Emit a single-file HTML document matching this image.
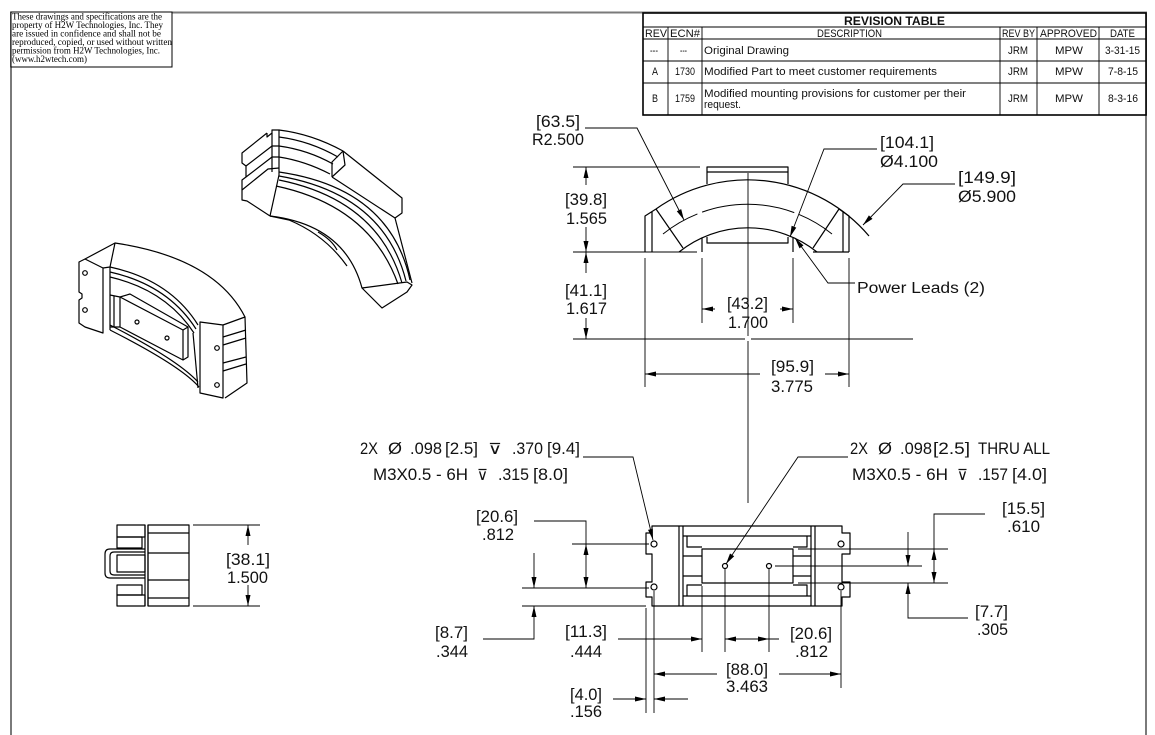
<!DOCTYPE html>
<html><head><meta charset="utf-8"><style>
html,body{margin:0;padding:0;background:#fff;}
svg{display:block;}
.o{fill:none;stroke:#000;stroke-width:1.2;stroke-linejoin:round}
.d{fill:none;stroke:#000;stroke-width:0.9}
.a{fill:#000;stroke:none}
.t{font-family:"Liberation Sans","DejaVu Sans",sans-serif;font-size:17px;fill:#111}
.p{font-family:"Liberation Sans",sans-serif;font-size:15.5px;fill:#111}
.r{font-family:"Liberation Sans",sans-serif;font-size:11px;fill:#111}
.n{font-family:"Liberation Serif",serif;font-size:9.5px;fill:#000}
.s{font-family:"DejaVu Sans","Liberation Sans",sans-serif;font-size:15px;fill:#111}
</style></head><body>
<svg width="1155" height="735" viewBox="0 0 1155 735" xmlns="http://www.w3.org/2000/svg">
<rect x="0" y="0" width="1155" height="735" fill="#fff"/>
<!-- frame -->
<path d="M11,735 L11,12.5 L1146,12.5 L1146,735" fill="none" stroke="#7a7a7a" stroke-width="2"/>
<!-- note box -->
<rect x="11" y="12" width="161" height="55" fill="#fff" stroke="#000" stroke-width="1"/>
<g class="n">
<text x="12" y="19.5" textLength="150" lengthAdjust="spacingAndGlyphs">These drawings and specifications are the</text>
<text x="12" y="28" textLength="151" lengthAdjust="spacingAndGlyphs">property of H2W Technologies, Inc. They</text>
<text x="12" y="36.5" textLength="149" lengthAdjust="spacingAndGlyphs">are issued in  confidence and shall not be</text>
<text x="12" y="45" textLength="160" lengthAdjust="spacingAndGlyphs">reproduced, copied, or used  without written</text>
<text x="12" y="53.5" textLength="148" lengthAdjust="spacingAndGlyphs">permission from H2W Technologies, Inc.</text>
<text x="12" y="62" textLength="75" lengthAdjust="spacingAndGlyphs">(www.h2wtech.com)</text>
</g>
<!-- revision table -->
<rect x="643" y="13" width="503" height="102" fill="#fff" stroke="#000" stroke-width="1.6"/>
<g class="d" stroke-width="1">
<path d="M643,27 H1146 M643,39 H1146 M643,61 H1146 M643,83 H1146"/>
<path d="M668,27 V115 M702,27 V115 M1000,27 V115 M1037,27 V115 M1099,27 V115"/>
</g>
<g class="r">
<text x="844" y="25" textLength="101" lengthAdjust="spacingAndGlyphs" font-weight="bold" font-size="12">REVISION TABLE</text>
<text x="645" y="37" textLength="22" lengthAdjust="spacingAndGlyphs">REV</text>
<text x="670" y="37" textLength="30" lengthAdjust="spacingAndGlyphs">ECN#</text>
<text x="817" y="37" textLength="65" lengthAdjust="spacingAndGlyphs">DESCRIPTION</text>
<text x="1002" y="37" textLength="33" lengthAdjust="spacingAndGlyphs">REV BY</text>
<text x="1040" y="37" textLength="57" lengthAdjust="spacingAndGlyphs">APPROVED</text>
<text x="1110" y="37" textLength="25" lengthAdjust="spacingAndGlyphs">DATE</text>
<text x="650" y="54" textLength="8" lengthAdjust="spacingAndGlyphs">---</text>
<text x="680" y="54" textLength="7" lengthAdjust="spacingAndGlyphs">---</text>
<text x="704" y="54" textLength="85" lengthAdjust="spacingAndGlyphs">Original Drawing</text>
<text x="1008" y="54" textLength="20" lengthAdjust="spacingAndGlyphs">JRM</text>
<text x="1055" y="54" textLength="28" lengthAdjust="spacingAndGlyphs">MPW</text>
<text x="1105" y="54" textLength="35" lengthAdjust="spacingAndGlyphs">3-31-15</text>
<text x="652" y="75" textLength="6" lengthAdjust="spacingAndGlyphs">A</text>
<text x="675" y="75" textLength="20" lengthAdjust="spacingAndGlyphs">1730</text>
<text x="704" y="75" textLength="233" lengthAdjust="spacingAndGlyphs">Modified Part to meet customer requirements</text>
<text x="1008" y="75" textLength="20" lengthAdjust="spacingAndGlyphs">JRM</text>
<text x="1055" y="75" textLength="28" lengthAdjust="spacingAndGlyphs">MPW</text>
<text x="1108" y="75" textLength="30" lengthAdjust="spacingAndGlyphs">7-8-15</text>
<text x="652" y="102" textLength="6" lengthAdjust="spacingAndGlyphs">B</text>
<text x="675" y="102" textLength="20" lengthAdjust="spacingAndGlyphs">1759</text>
<text x="704" y="97" textLength="262" lengthAdjust="spacingAndGlyphs">Modified mounting provisions for customer per their</text>
<text x="704" y="108" textLength="37" lengthAdjust="spacingAndGlyphs">request.</text>
<text x="1008" y="102" textLength="20" lengthAdjust="spacingAndGlyphs">JRM</text>
<text x="1055" y="102" textLength="28" lengthAdjust="spacingAndGlyphs">MPW</text>
<text x="1108" y="102" textLength="30" lengthAdjust="spacingAndGlyphs">8-3-16</text>
</g>

<!-- ============ UPPER ISO ============ -->
<g class="o" stroke-width="1.1">
<path d="M267,133 L242,153 L242,163 L246,166 L246,177 L242,180 L242,200 L247,201 L270,216"/>
<path d="M267,133 L267,137 L272,133 L272,130 L279,130 L279,175 L270,216"/>
<path d="M246,166 L272,146 L279,146"/>
<path d="M246,177 L272,157 L279,157"/>
<path d="M242,190 L268,169 L279,168"/>
<path d="M272,133 L272,172"/>
<path d="M279,130 Q312,134 343,151"/>
<path d="M279,137 Q310,141 338,157"/>
<path d="M279,146 Q308,150 333,164"/>
<path d="M279,157 Q305,161 330,174"/>
<path d="M343,151 L332,162 L332,177"/>
<path d="M343,151 L345,165 L332,177"/>
<path d="M343,151 L402,198 L402,213 L395,218 L332,177"/>
<path d="M279,172 Q390,188 410,280"/>
<path d="M279,176 Q384,194 406,281"/>
<path d="M279,180 Q378,200 402,283"/>
<path d="M276,186 Q370,206 398,284"/>
<path d="M395,218 L412,283"/>
<path d="M270,216 Q345,225 362,288"/>
<path d="M270,216 L289,220 Q325,235 347,266"/>
<path d="M318,232 Q332,240 337,250"/>
<path d="M362,288 L407,282 L412,285 L407,292 L382,308 Z"/>
</g>

<!-- ============ LOWER ISO ============ -->
<g class="o" stroke-width="1.1">
<path d="M79,262 L85,259 L103,268 L103,333 L85,327 L79,323 L79,300 L82,298 L82,294 L79,292 Z"/>
<circle cx="85" cy="273" r="2.3"/>
<circle cx="85" cy="310" r="2.3"/>
<path d="M85,259 L115,243 L110,267 L103,268"/>
<path d="M110,267 L110,330"/>
<path d="M115,243 Q215,258 245,317"/>
<path d="M110,267 Q170,280 198,325"/>
<path d="M110,272 Q168,285 196,329"/>
<path d="M110,277 Q166,290 194,333"/>
<path d="M110,330 Q181,366 199,387"/>
<path d="M110,325 Q178,360 198,382"/>
<path d="M120,297 L130,294 L188,327 L188,357 L183,360 L120,327 Z"/>
<path d="M120,297 L183,330 L188,327"/>
<path d="M183,330 L183,360"/>
<circle cx="137" cy="322" r="2"/>
<circle cx="167" cy="338" r="2"/>
<path d="M110,295 L120,297 M110,327 L120,327 M114,296 L114,327"/>
<path d="M200,322 L223,325 L223,398 L200,393 Z"/>
<path d="M223,325 L245,317 L247,383 L225,398"/>
<path d="M223,337 L246,330 M223,345 L246,338 M223,363 L246,357 M223,371 L246,364"/>
<circle cx="217" cy="348" r="2.3"/>
<circle cx="217" cy="385" r="2.3"/>
<path d="M193,333 L198,388"/>
</g>

<!-- ============ TOP VIEW ============ -->
<g class="o">
<path d="M656,209 A159,159 0 0 1 869,236"/>
<path d="M663,234 A135,135 0 0 1 832,234" stroke-dasharray="40 5 94 5 40" stroke-width="1"/>
<path d="M679,252 A110.5,110.5 0 0 1 817,252"/>
<path d="M656,209 L683,248 M839,209 L813,248"/>
<path d="M645,252 L645,216 L656,209 M652,212 L652,252"/>
<path d="M849,252 L849,216 L839,209 M843,212 L843,252"/>
<path d="M813,252 L849,252"/>
<path d="M707,184 L707,167 L788,167 L788,184 M707,172 L788,172"/>
<path d="M702,238 L702,252 M793,238 L793,252"/>
<path d="M707,237 L707,243 L788,243 L788,237"/>
</g>
<g class="d">
<path d="M573,252 L697,252"/>
<path d="M573,167 L700,167"/>
<path d="M748,173 L748,336 M748,341 L748,503"/>
<path d="M573,339 L745,339 M751,339 L913,339"/>
<path d="M702,258 L702,323 M793,258 L793,323"/>
<path d="M645,258 L645,387 M849,258 L849,387"/>
<path d="M586,167 L586,185 M586,227 L586,252"/>
<path d="M586,252 L586,273 M586,318 L586,339"/>
<path d="M702,309 L715,309 M780,309 L793,309"/>
<path d="M645,374 L760,374 M825,374 L849,374"/>
<path d="M585,128 L637,128 L684,220"/>
<path d="M877,149 L824,149 L790,237"/>
<path d="M955,184 L903,184 L863,225"/>
<path d="M855,283 L828,283 L795,238"/>
</g>
<g class="a">
<polygon points="586,167 583.5,178 588.5,178"/>
<polygon points="586,252 583.5,241 588.5,241"/>
<polygon points="586,252 583.5,263 588.5,263"/>
<polygon points="586,339 583.5,328 588.5,328"/>
<polygon points="702,309 713,306.5 713,311.5"/>
<polygon points="793,309 782,306.5 782,311.5"/>
<polygon points="645,374 656,371.5 656,376.5"/>
<polygon points="849,374 838,371.5 838,376.5"/>
<polygon points="684,220 676.8,211.3 681.2,209.1"/>
<polygon points="790,237 791.6,225.8 796.3,227.6"/>
<polygon points="863,225 868.9,215.4 872.5,218.9"/>
<polygon points="795,238 803.5,245.4 799.5,248.4"/>
</g>
<g class="t">
<text x="536" y="127" textLength="44" lengthAdjust="spacingAndGlyphs">[63.5]</text>
<text x="532" y="145" textLength="52" lengthAdjust="spacingAndGlyphs">R2.500</text>
<text x="565" y="205" textLength="42" lengthAdjust="spacingAndGlyphs">[39.8]</text>
<text x="566" y="224" textLength="41" lengthAdjust="spacingAndGlyphs">1.565</text>
<text x="565" y="296" textLength="42" lengthAdjust="spacingAndGlyphs">[41.1]</text>
<text x="566" y="314" textLength="41" lengthAdjust="spacingAndGlyphs">1.617</text>
<text x="727" y="309" textLength="41" lengthAdjust="spacingAndGlyphs">[43.2]</text>
<text x="728" y="328" textLength="40" lengthAdjust="spacingAndGlyphs">1.700</text>
<text x="771" y="372" textLength="43" lengthAdjust="spacingAndGlyphs">[95.9]</text>
<text x="771" y="392" textLength="42" lengthAdjust="spacingAndGlyphs">3.775</text>
<text x="880" y="148" textLength="54" lengthAdjust="spacingAndGlyphs">[104.1]</text>
<text x="880" y="167" textLength="58" lengthAdjust="spacingAndGlyphs">Ø4.100</text>
<text x="958" y="183" textLength="58" lengthAdjust="spacingAndGlyphs">[149.9]</text>
<text x="958" y="202" textLength="58" lengthAdjust="spacingAndGlyphs">Ø5.900</text>
</g>
<text class="p" x="857" y="293" textLength="128" lengthAdjust="spacingAndGlyphs">Power Leads (2)</text>

<!-- ============ BOTTOM VIEW ============ -->
<g class="o">
<path d="M652,526 L842,526 L842,533 L850,533 L850,554 L842,554 L842,582 L850,582 L850,597 L842,597 L842,606 L652,606 L652,597 L646,597 L646,582 L652,582 L652,554 L646,554 L646,533 L652,533 Z"/>
<path d="M679,526 V606 M683,526 V606 M811,526 V606 M815,526 V606"/>
<path d="M683,536 H811 M683,596 H811"/>
<path d="M687,536 V547 H702 M807,536 V547 H793 M687,596 V585 H702 M807,596 V585 H793"/>
<path d="M683,556 H702 M683,576 H702 M793,556 H811 M793,576 H811"/>
<rect x="702" y="549" width="91" height="34"/>
<circle cx="654" cy="544" r="3"/>
<circle cx="654" cy="587" r="3"/>
<circle cx="841" cy="544" r="3"/>
<circle cx="841" cy="587" r="3"/>
<circle cx="725" cy="566" r="2.5"/>
<circle cx="769" cy="566" r="2.5"/>
</g>
<g class="d">
<path d="M798,549 H948 M775,566 H922 M798,583 H948"/>
<path d="M572,544 H649 M522,588 H649 M522,606 H646"/>
<path d="M646,608 V713 M654,591 V713 M702,586 V652 M725,569 V652 M769,569 V652 M841,591 V688"/>
<path d="M534,521 H586 V588"/>
<path d="M534,553 V588 M534,606 V639 H483"/>
<path d="M618,639 H702 M725,639 H779"/>
<path d="M654,674 H717 M779,674 H841"/>
<path d="M613,699 H646 M654,699 H688"/>
<path d="M985,514 H934 V583"/>
<path d="M908,532 V566 M908,583 V618 H968"/>
<path d="M583,457 H633 L653,540"/>
<path d="M848,457 H798 L726,564"/>
</g>
<g class="a">
<polygon points="653,540 648,529.9 652.8,528.7"/>
<polygon points="726,564 730,553.5 734.2,556.3"/>
<polygon points="586,544 583.5,555 588.5,555"/>
<polygon points="586,588 583.5,577 588.5,577"/>
<polygon points="534,588 531.5,577 536.5,577"/>
<polygon points="534,606 531.5,617 536.5,617"/>
<polygon points="702,639 691,636.5 691,641.5"/>
<polygon points="725,639 736,636.5 736,641.5"/>
<polygon points="769,639 758,636.5 758,641.5"/>
<polygon points="654,674 665,671.5 665,676.5"/>
<polygon points="841,674 830,671.5 830,676.5"/>
<polygon points="646,699 635,696.5 635,701.5"/>
<polygon points="654,699 665,696.5 665,701.5"/>
<polygon points="934,549 931.5,560 936.5,560"/>
<polygon points="934,583 931.5,572 936.5,572"/>
<polygon points="908,566 905.5,555 910.5,555"/>
<polygon points="908,583 905.5,594 910.5,594"/>
<polygon points="248,525 245.5,536 250.5,536"/>
<polygon points="248,606 245.5,595 250.5,595"/>
</g>
<g class="t">
<text x="360" y="454" textLength="18" lengthAdjust="spacingAndGlyphs">2X</text>
<text x="388" y="454" textLength="14" lengthAdjust="spacingAndGlyphs">Ø</text>
<text x="410" y="454" textLength="32" lengthAdjust="spacingAndGlyphs">.098</text>
<text x="445" y="454" textLength="33" lengthAdjust="spacingAndGlyphs">[2.5]</text>
<text class="s" x="488" y="454" textLength="14" lengthAdjust="spacingAndGlyphs">⊽</text>
<text x="512" y="454" textLength="31" lengthAdjust="spacingAndGlyphs">.370</text>
<text x="547" y="454" textLength="33" lengthAdjust="spacingAndGlyphs">[9.4]</text>
<text x="373" y="480" textLength="95" lengthAdjust="spacingAndGlyphs">M3X0.5 - 6H</text>
<text class="s" x="477" y="480" textLength="11" lengthAdjust="spacingAndGlyphs">⊽</text>
<text x="498" y="480" textLength="31" lengthAdjust="spacingAndGlyphs">.315</text>
<text x="533" y="480" textLength="35" lengthAdjust="spacingAndGlyphs">[8.0]</text>
<text x="850" y="454" textLength="18" lengthAdjust="spacingAndGlyphs">2X</text>
<text x="878" y="454" textLength="14" lengthAdjust="spacingAndGlyphs">Ø</text>
<text x="900" y="454" textLength="32" lengthAdjust="spacingAndGlyphs">.098</text>
<text x="933" y="454" textLength="37" lengthAdjust="spacingAndGlyphs">[2.5]</text>
<text x="978" y="454" textLength="72" lengthAdjust="spacingAndGlyphs">THRU ALL</text>
<text x="852" y="480" textLength="96" lengthAdjust="spacingAndGlyphs">M3X0.5 - 6H</text>
<text class="s" x="957" y="480" textLength="11" lengthAdjust="spacingAndGlyphs">⊽</text>
<text x="978" y="480" textLength="30" lengthAdjust="spacingAndGlyphs">.157</text>
<text x="1012" y="480" textLength="35" lengthAdjust="spacingAndGlyphs">[4.0]</text>
<text x="476" y="522" textLength="42" lengthAdjust="spacingAndGlyphs">[20.6]</text>
<text x="482" y="540" textLength="32" lengthAdjust="spacingAndGlyphs">.812</text>
<text x="435" y="638" textLength="33" lengthAdjust="spacingAndGlyphs">[8.7]</text>
<text x="436" y="657" textLength="32" lengthAdjust="spacingAndGlyphs">.344</text>
<text x="565" y="637" textLength="42" lengthAdjust="spacingAndGlyphs">[11.3]</text>
<text x="570" y="657" textLength="32" lengthAdjust="spacingAndGlyphs">.444</text>
<text x="570" y="700" textLength="32" lengthAdjust="spacingAndGlyphs">[4.0]</text>
<text x="570" y="717" textLength="32" lengthAdjust="spacingAndGlyphs">.156</text>
<text x="790" y="639" textLength="42" lengthAdjust="spacingAndGlyphs">[20.6]</text>
<text x="795" y="657" textLength="33" lengthAdjust="spacingAndGlyphs">.812</text>
<text x="726" y="675" textLength="42" lengthAdjust="spacingAndGlyphs">[88.0]</text>
<text x="726" y="692" textLength="42" lengthAdjust="spacingAndGlyphs">3.463</text>
<text x="1002" y="514" textLength="43" lengthAdjust="spacingAndGlyphs">[15.5]</text>
<text x="1007" y="532" textLength="33" lengthAdjust="spacingAndGlyphs">.610</text>
<text x="975" y="617" textLength="33" lengthAdjust="spacingAndGlyphs">[7.7]</text>
<text x="977" y="635" textLength="31" lengthAdjust="spacingAndGlyphs">.305</text>
<text x="226" y="565" textLength="44" lengthAdjust="spacingAndGlyphs">[38.1]</text>
<text x="227" y="583" textLength="41" lengthAdjust="spacingAndGlyphs">1.500</text>
</g>

<!-- ============ SIDE VIEW (left small) ============ -->
<g class="o" stroke-width="1.1">
<rect x="117" y="525" width="28" height="12"/>
<rect x="117" y="537" width="25" height="11"/>
<rect x="117" y="585" width="25" height="10"/>
<rect x="117" y="595" width="28" height="11"/>
<path d="M145,525 V606 M148,525 V606"/>
<rect x="148" y="525" width="41" height="81"/>
<path d="M148,533 H189 M148,553 H189 M148,580 H189 M148,598 H189"/>
<path d="M145,549 L110,549 Q105,549 105,554 L105,573 Q105,578 110,578 L145,578"/>
<path d="M145,552 L114,552 Q110,552 110,556 L110,571 Q110,575 114,575 L145,575"/>
<rect x="117" y="555" width="28" height="17"/>
</g>
<g class="d">
<path d="M193,525 H260 M193,606 H260"/>
<path d="M248,525 V545 M248,585 V606"/>
</g>
</svg>
</body></html>
